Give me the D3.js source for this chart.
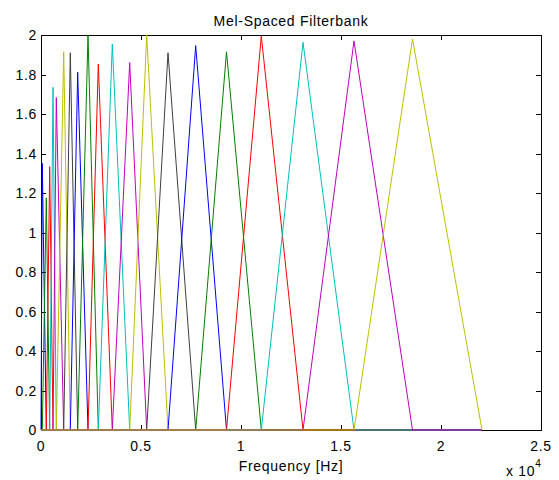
<!DOCTYPE html>
<html>
<head>
<meta charset="utf-8">
<script src="https://cdn.jsdelivr.net/npm/d3@7"></script>
<style>
  html, body { margin: 0; padding: 0; background: #fff; }
  svg { display: block; font-family: "Liberation Sans", Arial, Helvetica, sans-serif; }
  svg text { letter-spacing: 0.7px; }
</style>
</head>
<body>
<svg id="chart" width="559" height="480"></svg>
<script>
// Centre frequency (Hz) and peak gain of each triangular mel filter
const centerHz = [65, 265, 435, 600, 765, 1135, 1465, 1835, 2350, 2865,
                  3565, 4435, 5285, 6350, 7735, 9275, 11015, 13100, 15650, 18575];
const peakGain = [1.35, 1.175, 1.333, 1.735, 1.683, 1.915, 1.91, 1.811, 2.0, 1.853,
                  1.954, 1.86, 2.0, 1.91, 1.946, 1.915, 1.995, 1.963, 1.97, 1.98];
// Lower and upper band limits of the whole bank (0 Hz and Nyquist)
const bandEdges = [0, 22050];
// Plot line colour order
const colorOrder = ["#0000ff", "#008000", "#ff0000", "#00bfbf", "#bf00bf", "#bfbf00", "#3f3f3f"];
// Axis ticks (x in units of 10^4 Hz)
const xTicks = [0, 0.5, 1, 1.5, 2, 2.5];
const yTicks = [0, 0.2, 0.4, 0.6, 0.8, 1, 1.2, 1.4, 1.6, 1.8, 2];

(function () {
  const svg = d3.select("#chart");
  const plotL = 41, plotR = 541, plotT = 35, plotB = 430;
  const fontSize = 14;

  const x = d3.scaleLinear().domain([0, 25000]).range([plotL, plotR]);
  const y = d3.scaleLinear().domain([0, 2]).range([plotB, plotT]);
  const tickLen = 5;

  // Filters: each spans from the previous centre to the next centre
  const edges = [bandEdges[0], ...centerHz, bandEdges[1]];
  const filters = centerHz.map((c, i) => [
    [bandEdges[0], 0],
    [edges[i], 0],
    [c, peakGain[i]],
    [edges[i + 2], 0],
    [bandEdges[1], 0]
  ]);

  // Axes box
  svg.append("rect")
    .attr("x", plotL + 0.5).attr("y", plotT + 0.5)
    .attr("width", plotR - plotL).attr("height", plotB - plotT)
    .attr("fill", "#fff").attr("stroke", "#000").attr("stroke-width", 1);

  // Ticks on all four sides, pointing inward
  const g = svg.append("g").attr("stroke", "#000").attr("stroke-width", 1);
  xTicks.forEach(t => {
    const px = Math.round(x(t * 1e4)) + 0.5;
    g.append("line").attr("x1", px).attr("x2", px).attr("y1", plotB).attr("y2", plotB - tickLen);
    g.append("line").attr("x1", px).attr("x2", px).attr("y1", plotT).attr("y2", plotT + tickLen);
  });
  yTicks.forEach(t => {
    const py = Math.round(y(t)) + 0.5;
    g.append("line").attr("x1", plotL).attr("x2", plotL + tickLen).attr("y1", py).attr("y2", py);
    g.append("line").attr("x1", plotR).attr("x2", plotR - tickLen).attr("y1", py).attr("y2", py);
  });

  // Tick labels
  svg.append("g").selectAll("text").data(xTicks).join("text")
    .attr("x", d => x(d * 1e4)).attr("y", plotB + 21)
    .attr("text-anchor", "middle").attr("font-size", fontSize)
    .text(d => String(d));
  svg.append("g").selectAll("text").data(yTicks).join("text")
    .attr("x", plotL - 4).attr("y", d => y(d) + 5)
    .attr("text-anchor", "end").attr("font-size", fontSize)
    .text(d => String(+d.toFixed(1)));

  // Filter curves
  const line = d3.line().x(d => x(d[0])).y(d => y(d[1]));
  svg.append("g").attr("fill", "none").attr("stroke-width", 1)
    .selectAll("path").data(filters).join("path")
    .attr("stroke", (d, i) => colorOrder[i % colorOrder.length])
    .attr("d", line);

  // Title and axis labels
  svg.append("text").attr("x", (plotL + plotR) / 2).attr("y", 26)
    .attr("text-anchor", "middle").attr("font-size", fontSize)
    .text("Mel-Spaced Filterbank");
  svg.append("text").attr("x", (plotL + plotR) / 2).attr("y", 471)
    .attr("text-anchor", "middle").attr("font-size", fontSize)
    .text("Frequency [Hz]");
  const exp = svg.append("text").attr("x", 506).attr("y", 476).attr("font-size", fontSize);
  exp.append("tspan").text("x 10");
  exp.append("tspan").attr("dy", -9).attr("font-size", 10).text("4");
})();
</script>
</body>
</html>
